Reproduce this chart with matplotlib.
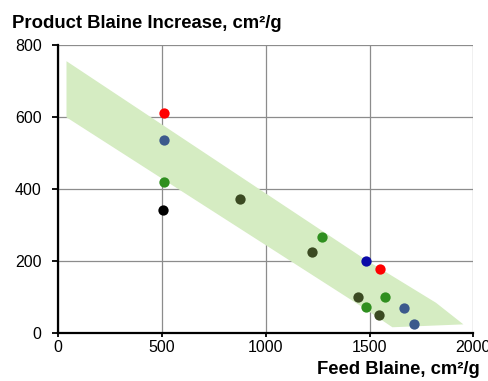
import matplotlib
matplotlib.use('Agg')
import matplotlib.pyplot as plt

plt.rcParams['font.family'] = ['Liberation Sans', 'DejaVu Sans']

# shaded band (feed blaine, increase) outline
BAND_X = [40, 1480, 1820, 1952, 1610, 1460, 40]
BAND_Y = [756, 205, 85, 25, 17, 75, 600]

# measured points, grouped by colour
SERIES = {
    '#FF0000': ([509, 1550], [611, 180]),
    '#3C5A8C': ([509, 1664, 1716], [537, 70, 27]),
    '#2F8F1F': ([509, 1272, 1575, 1484], [420, 268, 101, 73]),
    '#000000': ([506], [342]),
    '#3B4A22': ([876, 1221, 1446, 1546], [372, 226, 101, 52]),
    '#0A0AA8': ([1481], [201]),
}

fig = plt.figure(figsize=(4.89, 3.81), dpi=100)
ax = fig.add_axes([0.119, 0.125, 0.849, 0.756])

ax.fill(BAND_X, BAND_Y, color='#D5ECC2', lw=0, zorder=1)
for col, (xs, ys) in SERIES.items():
    ax.scatter(xs, ys, s=55, color=col, zorder=3, linewidths=0)

ax.set_xlim(0, 2000)
ax.set_ylim(0, 800)
ax.set_xticks(range(0, 2001, 500))
ax.set_yticks(range(0, 801, 200))
ax.grid(color='#8c8c8c', lw=0.9, zorder=0)
ax.set_axisbelow(True)
for s in ['top', 'right']:
    ax.spines[s].set_visible(False)
for s in ['left', 'bottom']:
    ax.spines[s].set_linewidth(1.6)
ax.tick_params(labelsize=11.5, width=1.3, colors='black')
ax.tick_params(axis='y', length=4, pad=8)
ax.tick_params(axis='x', length=3, pad=1.5)

fig.text(0.025, 0.927, 'Product Blaine Increase, cm²/g', fontsize=13.3,
         fontweight='bold', ha='left', va='baseline')
fig.text(0.982, 0.018, 'Feed Blaine, cm²/g', fontsize=13.3,
         fontweight='bold', ha='right', va='baseline')

fig.savefig('out.png', dpi=100)
